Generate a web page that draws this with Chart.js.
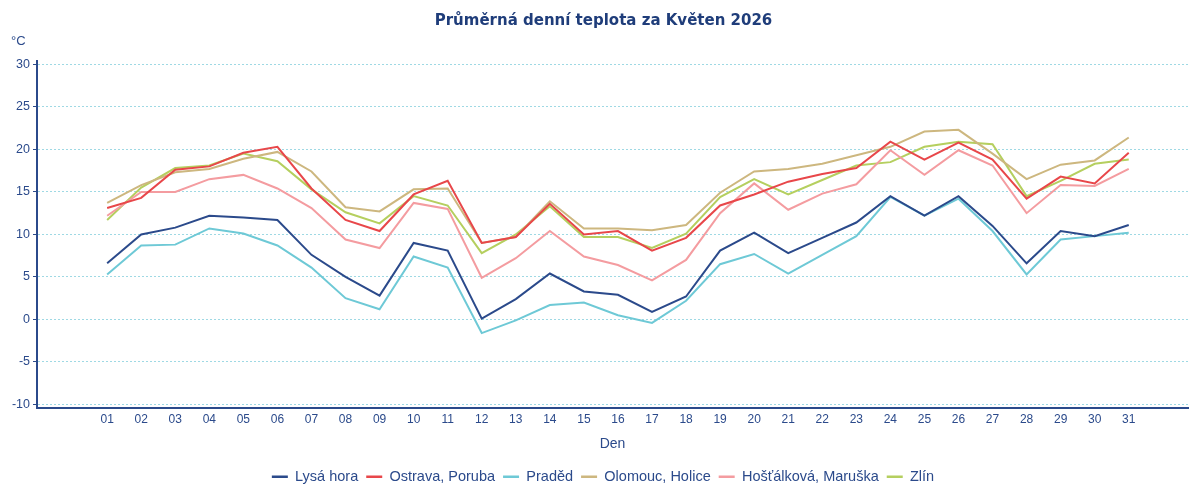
<!DOCTYPE html>
<html>
<head>
<meta charset="utf-8">
<script src="https://cdn.jsdelivr.net/npm/chart.js@4.4.0/dist/chart.umd.min.js"></script>
<style>
html,body{margin:0;padding:0;background:#fff;}
#wrap{width:1189px;height:484px;}
</style>
</head>
<body>
<div id="wrap"><canvas id="c" width="1189" height="484"></canvas></div>
<script>
const days = [1,2,3,4,5,6,7,8,9,10,11,12,13,14,15,16,17,18,19,20,21,22,23,24,25,26,27,28,29,30,31];
const dayLabels = ['01','02','03','04','05','06','07','08','09','10','11','12','13','14','15','16','17','18','19','20','21','22','23','24','25','26','27','28','29','30','31'];
const yTicks = [-10,-5,0,5,10,15,20,25,30];

const lysaHora = [6.6,10.0,10.8,12.2,12.0,11.7,7.6,5.0,2.8,9.0,8.1,0.1,2.4,5.4,3.3,2.9,0.9,2.7,8.1,10.2,7.8,9.6,11.4,14.5,12.2,14.5,11.0,6.6,10.4,9.8,11.1];
const ostravaPoruba = [13.1,14.3,17.6,18.0,19.6,20.3,15.4,11.7,10.4,14.7,16.3,9.0,9.7,13.6,10.0,10.4,8.1,9.6,13.4,14.7,16.2,17.1,17.8,20.9,18.8,20.8,18.8,14.2,16.8,16.0,19.6];
const praded = [5.3,8.7,8.8,10.7,10.1,8.7,6.1,2.5,1.2,7.4,6.1,-1.6,-0.1,1.7,2.0,0.5,-0.4,2.2,6.5,7.7,5.4,7.6,9.8,14.4,12.2,14.2,10.4,5.3,9.4,9.8,10.2];
const olomoucHolice = [13.7,15.8,17.3,17.7,18.9,19.7,17.4,13.2,12.7,15.3,15.4,9.0,9.7,13.9,10.7,10.7,10.5,11.1,14.9,17.4,17.7,18.3,19.3,20.3,22.1,22.3,19.5,16.5,18.2,18.7,21.4];
const hostalkova = [12.2,15.0,15.0,16.5,17.0,15.4,13.1,9.4,8.4,13.7,13.0,4.9,7.2,10.4,7.4,6.4,4.6,7.0,12.5,16.0,12.9,14.8,15.9,19.9,17.0,19.9,18.1,12.5,15.8,15.7,17.7];
const zlin = [11.7,15.5,17.8,18.1,19.5,18.6,15.3,12.6,11.3,14.5,13.4,7.8,10.0,13.3,9.7,9.7,8.4,10.1,14.4,16.5,14.7,16.4,18.1,18.5,20.3,20.9,20.6,14.5,16.3,18.3,18.8];

const seriesNames = ['Lysá hora','Ostrava, Poruba','Praděd','Olomouc, Holice','Hošťálková, Maruška','Zlín'];
const seriesValues = [lysaHora, ostravaPoruba, praded, olomoucHolice, hostalkova, zlin];
const seriesColors = ['#2b4a8b','#e8474a','#6ec9d6','#cdb77f','#f49ca0','#b5cf5f'];

const TEXT = '#2b4a8b';
const FONT = "'Liberation Sans', Arial, sans-serif";

const unitPlugin = {
  id: 'unit',
  afterLayout(chart) {
    // the reference centres its title and legend slightly right of the canvas centre
    if (chart.titleBlock) { chart.titleBlock.left += 9.5; chart.titleBlock.right += 9.5; }
    if (chart.legend) { chart.legend.left += 9; chart.legend.right += 9; }
  },
  afterDraw(chart) {
    const ctx = chart.ctx;
    ctx.save();
    ctx.fillStyle = TEXT;
    ctx.font = '13px ' + FONT;
    ctx.textAlign = 'left';
    ctx.textBaseline = 'middle';
    ctx.fillText('°C', 11, 41.5);
    ctx.restore();
  }
};

new Chart(document.getElementById('c'), {
  type: 'line',
  data: {
    datasets: seriesNames.map((name, i) => ({
      label: name,
      data: days.map((d, j) => ({x: d, y: seriesValues[i][j]})),
      borderColor: seriesColors[i],
      backgroundColor: seriesColors[i],
      borderWidth: 2,
      pointRadius: 0,
      pointHoverRadius: 0,
      tension: 0,
      fill: false
    }))
  },
  plugins: [unitPlugin],
  options: {
    responsive: false,
    animation: false,
    devicePixelRatio: 1,
    layout: {padding: {left: 0, right: 1, top: 0, bottom: -10}},
    plugins: {
      tooltip: {enabled: false},
      title: {
        display: true,
        text: 'Průměrná denní teplota za Květen 2026',
        color: '#1f3d7a',
        font: {family: "'DejaVu Sans', sans-serif", size: 15, weight: 'bold'},
        padding: {top: 12, bottom: 31}
      },
      legend: {
        display: true,
        position: 'bottom',
        labels: {
          color: TEXT,
          font: {family: FONT, size: 14.5},
          usePointStyle: true,
          pointStyle: 'line',
          pointStyleWidth: 16,
          padding: 8,
          generateLabels(chart) {
            return chart.data.datasets.map((ds, i) => ({
              text: ds.label,
              fillStyle: ds.borderColor,
              strokeStyle: ds.borderColor,
              lineWidth: 2.5,
              pointStyle: 'line',
              hidden: false,
              datasetIndex: i,
              fontColor: TEXT
            }));
          }
        }
      }
    },
    scales: {
      x: {
        type: 'linear',
        min: -1.06,
        max: 32.74,
        afterBuildTicks(scale) { scale.ticks = days.map(d => ({value: d})); },
        afterFit(scale) { scale.height = 54; },
        ticks: {
          color: TEXT,
          font: {family: FONT, size: 12},
          padding: 5,
          autoSkip: false,
          maxRotation: 0,
          callback(v) { const i = days.indexOf(v); return i >= 0 ? dayLabels[i] : ''; }
        },
        grid: {display: false, drawTicks: false, tickLength: 0},
        border: {display: true, color: TEXT, width: 2},
        title: {display: true, text: 'Den', color: TEXT, font: {family: FONT, size: 14}, padding: {top: 4, bottom: 9}}
      },
      y: {
        type: 'linear',
        min: -10.35,
        max: 30.39,
        afterBuildTicks(scale) { scale.ticks = yTicks.map(v => ({value: v})); },
        afterFit(scale) { scale.width = 37; },
        ticks: {
          color: TEXT,
          font: {family: FONT, size: 12.5},
          padding: 3,
          includeBounds: false
        },
        grid: {
          display: true,
          color: '#9fd9e4',
          lineWidth: 1,
          drawTicks: true,
          tickLength: 4,
          tickColor: TEXT,
          tickBorderDash: [],
          tickWidth: 1
        },
        border: {display: true, color: TEXT, width: 2, dash: [2, 2]}
      }
    }
  }
});
</script>
</body>
</html>
